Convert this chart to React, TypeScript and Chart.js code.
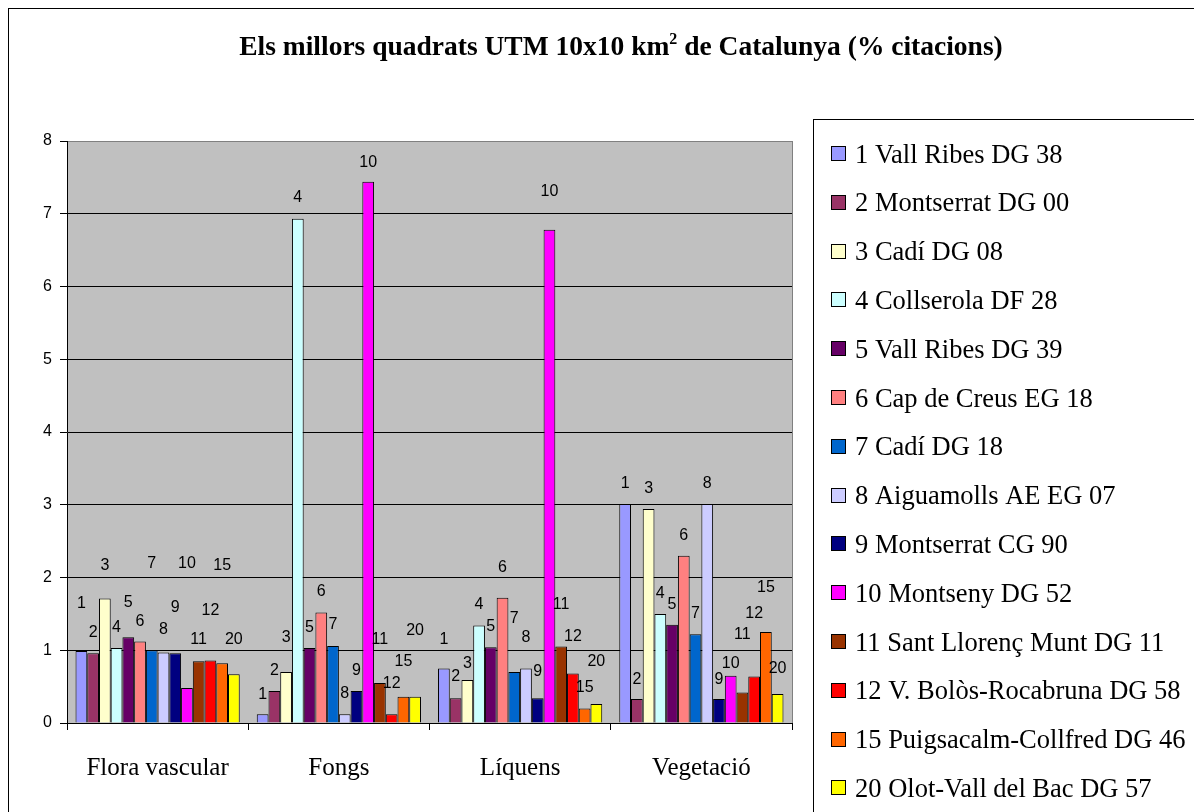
import { useEffect, useRef } from 'react';
import { Chart, registerables } from 'chart.js';

Chart.register(...registerables);

const categories = ['Flora vascular', 'Fongs', 'Líquens', 'Vegetació'];

const seriesNames = [
  '1 Vall Ribes DG 38',
  '2 Montserrat DG 00',
  '3 Cadí DG 08',
  '4 Collserola DF 28',
  '5 Vall Ribes DG 39',
  '6 Cap de Creus EG 18',
  '7 Cadí DG 18',
  '8 Aiguamolls AE EG 07',
  '9 Montserrat CG 90',
  '10 Montseny DG 52',
  '11 Sant Llorenç Munt DG 11',
  '12 V. Bolòs-Rocabruna DG 58',
  '15 Puigsacalm-Collfred DG 46',
  '20 Olot-Vall del Bac DG 57',
];

const seriesNumbers = ['1', '2', '3', '4', '5', '6', '7', '8', '9', '10', '11', '12', '15', '20'];

const seriesColors = [
  '#9999FF', '#993366', '#FFFFCC', '#CCFFFF', '#660066', '#FF8080', '#0066CC',
  '#CCCCFF', '#000080', '#FF00FF', '#993300', '#FF0000', '#FF6600', '#FFFF00',
];

// % citacions per category, one value per series (in series order)
const floraVascular = [0.99, 0.96, 1.71, 1.03, 1.18, 1.12, 1.0, 0.97, 0.96, 0.48, 0.85, 0.86, 0.82, 0.67];
const fongs = [0.12, 0.44, 0.7, 6.93, 1.03, 1.52, 1.06, 0.12, 0.44, 7.44, 0.55, 0.12, 0.36, 0.36];
const liquens = [0.75, 0.34, 0.59, 1.34, 1.04, 1.72, 0.7, 0.75, 0.34, 6.78, 1.05, 0.68, 0.2, 0.26];
const vegetacio = [3.01, 0.33, 2.94, 1.5, 1.35, 2.3, 1.22, 3.01, 0.33, 0.65, 0.42, 0.64, 1.25, 0.4];

// height (in axis units) at which each series-number label sits
const floraLabelAt = [1.64, 1.24, 2.16, 1.31, 1.65, 1.4, 2.19, 1.28, 1.58, 2.19, 1.14, 1.54, 2.16, 1.15];
const fongsLabelAt = [0.39, 0.72, 1.17, 7.22, 1.31, 1.8, 1.35, 0.41, 0.72, 7.71, 1.14, 0.54, 0.85, 1.27];
const liquensLabelAt = [1.14, 0.64, 0.82, 1.63, 1.32, 2.13, 1.44, 1.17, 0.7, 7.3, 1.63, 1.19, 0.49, 0.85];
const vegetacioLabelAt = [3.29, 0.59, 3.22, 1.78, 1.63, 2.58, 1.5, 3.29, 0.6, 0.81, 1.21, 1.5, 1.86, 0.75];

const yTicks = [0, 1, 2, 3, 4, 5, 6, 7, 8];

const W = 1194;
const H = 812;

export default function App() {
  const ref = useRef<HTMLCanvasElement>(null);

  useEffect(() => {
    const canvas = ref.current;
    if (!canvas) return;
    const values = [floraVascular, fongs, liquens, vegetacio];
    const labelAt = [floraLabelAt, fongsLabelAt, liquensLabelAt, vegetacioLabelAt];

    const datasets = seriesNames.map((name, i) => ({
      label: name,
      data: values.map((v) => v[i]),
      backgroundColor: seriesColors[i],
      borderColor: '#000000',
      borderWidth: 1,
      borderSkipped: 'bottom' as const,
      categoryPercentage: 0.906,
      barPercentage: 1,
    }));

    const decor = {
      id: 'decor',
      beforeDraw(chart: any) {
        const { ctx, chartArea } = chart;
        ctx.save();
        ctx.fillStyle = '#ffffff';
        ctx.fillRect(0, 0, W, H);
        ctx.fillStyle = '#C0C0C0';
        ctx.fillRect(chartArea.left, chartArea.top, chartArea.right - chartArea.left, chartArea.bottom - chartArea.top);
        ctx.restore();
      },
      afterDatasetsDraw(chart: any) {
        const { ctx, chartArea } = chart;
        const yScale = chart.scales.y;
        ctx.save();
        // right border of plot area
        ctx.strokeStyle = '#808080';
        ctx.lineWidth = 1;
        ctx.beginPath();
        ctx.moveTo(Math.round(chartArea.right) + 0.5, chartArea.top);
        ctx.lineTo(Math.round(chartArea.right) + 0.5, chartArea.bottom);
        ctx.stroke();
        // series number labels
        ctx.fillStyle = '#000000';
        ctx.font = '16px "Liberation Sans", Arial, sans-serif';
        ctx.textAlign = 'center';
        ctx.textBaseline = 'middle';
        chart.data.datasets.forEach((_ds: any, i: number) => {
          const meta = chart.getDatasetMeta(i);
          meta.data.forEach((bar: any, j: number) => {
            const y = yScale.getPixelForValue(labelAt[j][i]);
            ctx.fillText(seriesNumbers[i], bar.x, y);
          });
        });
        ctx.restore();
      },
      afterDraw(chart: any) {
        const { ctx } = chart;
        ctx.save();
        // outer frame
        ctx.strokeStyle = '#000000';
        ctx.lineWidth = 1;
        ctx.strokeRect(8.5, 8.5, W + 20, H + 20);
        // title
        const part1 = 'Els millors quadrats UTM 10x10 km';
        const sup = '2';
        const part2 = ' de Catalunya (% citacions)';
        ctx.fillStyle = '#000000';
        ctx.textBaseline = 'alphabetic';
        ctx.textAlign = 'left';
        const fMain = 'bold 27.5px "Liberation Serif", "Times New Roman", serif';
        const fSup = 'bold 16px "Liberation Serif", "Times New Roman", serif';
        ctx.font = fMain;
        const w1 = ctx.measureText(part1).width;
        const w3 = ctx.measureText(part2).width;
        ctx.font = fSup;
        const w2 = ctx.measureText(sup).width;
        const total = w1 + w2 + w3;
        let x = 621 - total / 2;
        const base = 55;
        ctx.font = fMain;
        ctx.fillText(part1, x, base);
        x += w1;
        ctx.font = fSup;
        ctx.fillText(sup, x, base - 11);
        x += w2;
        ctx.font = fMain;
        ctx.fillText(part2, x, base);
        // legend
        ctx.strokeRect(813.5, 119.5, W, H);
        ctx.font = '26.5px "Liberation Serif", "Times New Roman", serif';
        chart.data.datasets.forEach((ds: any, i: number) => {
          const cy = 153.5 + i * 48.8;
          ctx.fillStyle = ds.backgroundColor;
          ctx.fillRect(831, Math.round(cy - 7.5), 15, 15);
          ctx.strokeStyle = '#000000';
          ctx.strokeRect(831.5, Math.round(cy - 7.5) + 0.5, 14, 14);
          ctx.fillStyle = '#000000';
          ctx.fillText(ds.label, 855, cy + 9);
        });
        ctx.restore();
      },
    };

    const chart = new Chart(canvas, {
      type: 'bar',
      data: { labels: categories, datasets },
      options: {
        responsive: false,
        animation: false,
        devicePixelRatio: 1,
        layout: { padding: { top: 141, right: W - 792, left: 0, bottom: 0 } },
        plugins: {
          legend: { display: false },
          title: { display: false },
          tooltip: { enabled: false },
        },
        scales: {
          x: {
            type: 'category',
            afterFit: (s: any) => {
              s.height = H - 723;
            },
            grid: {
              offset: true,
              drawOnChartArea: false,
              color: '#000000',
              tickColor: '#000000',
              tickLength: 7,
            },
            border: { display: true, color: '#000000', width: 1 },
            ticks: {
              color: '#000000',
              font: { family: '"Liberation Serif", "Times New Roman", serif', size: 25 },
              padding: 23,
              maxRotation: 0,
            },
          },
          y: {
            min: 0,
            max: 8,
            afterFit: (s: any) => {
              s.width = 67;
            },
            afterBuildTicks: (s: any) => {
              s.ticks = yTicks.map((v) => ({ value: v }));
            },
            grid: {
              color: (c: any) => (c.tick && c.tick.value === 8 ? '#808080' : '#000000'),
              tickColor: '#000000',
              tickLength: 7,
            },
            border: { display: true, color: '#000000', width: 1 },
            ticks: {
              color: '#000000',
              font: { family: '"Liberation Sans", Arial, sans-serif', size: 16 },
              padding: 8,
            },
          },
        },
      },
      plugins: [decor],
    });

    return () => chart.destroy();
  }, []);

  return (
    <div style={{ position: 'fixed', left: 0, top: 0, width: W, height: H, background: '#ffffff' }}>
      <canvas ref={ref} width={W} height={H} style={{ display: 'block', width: W, height: H }} />
    </div>
  );
}
